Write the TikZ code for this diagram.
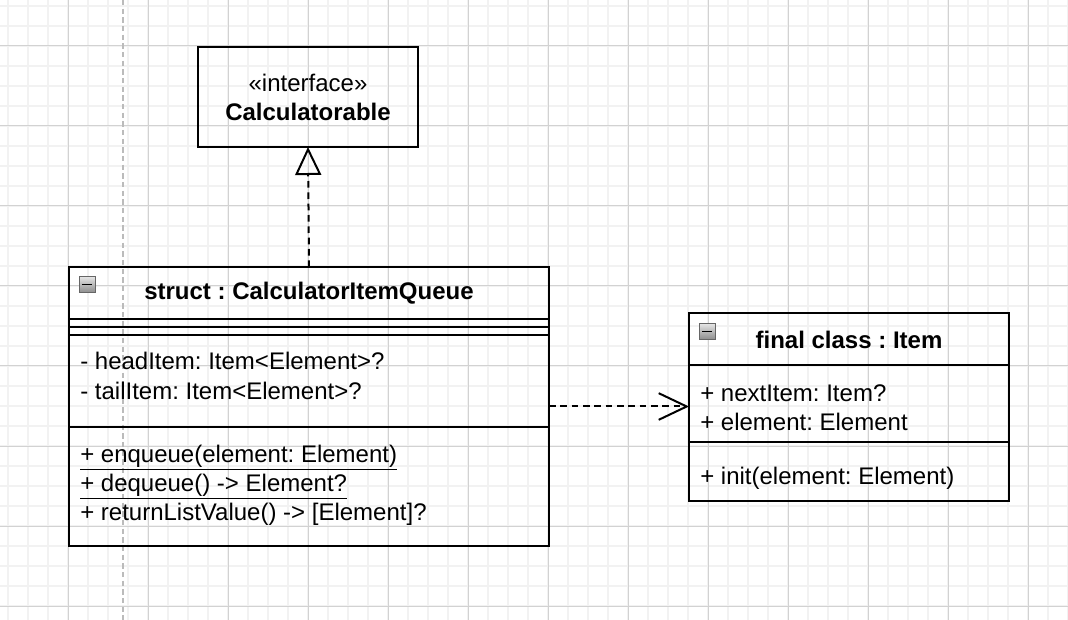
\documentclass[tikz,border=0pt]{standalone}
\usepackage{fontspec}
\setmainfont{Liberation Sans}
\usetikzlibrary{positioning, arrows.meta}
\definecolor{gridMinor}{HTML}{F2F2F2}
\definecolor{gridMajor}{HTML}{D2D2D2}
\definecolor{guideColor}{HTML}{BBBBBB}
\newcommand{\umlFont}{\fontsize{18}{21.75}\selectfont\frenchspacing}
\tikzset{
    class part/.style={
        rectangle,
        draw=black,
        line width=1.5pt,
        outer sep=0pt,
        minimum width=#1,
        inner sep=0pt,
        font=\umlFont,
    },
    class header/.style={
        class part=#1,
        minimum height=39pt,
        font=\umlFont\bfseries,
    },
    member/.style={
        inner sep=0pt,
        anchor=base west,
        font=\umlFont,
    },
    next member/.style={
        member,
        below=21.75pt of #1.base west,
        anchor=base west,
    },
    toggle/.style={
        rectangle,
        draw=black!60,
        line width=0.6pt,
        top color=black!10,
        bottom color=black!45,
        minimum size=12pt,
        inner sep=0pt,
    },
    realize/.style={
        -{Triangle[open, length=21pt, width=19.5pt, line width=1.5pt]},
        line width=1.5pt,
        dash pattern=on 5pt off 3.5pt,
    },
    depend/.style={
        -{Straight Barb[length=21pt, width=20pt, line width=1.5pt]},
        line width=1.5pt,
        dash pattern=on 5pt off 3.5pt,
    },
}

\begin{document}
\begin{tikzpicture}[x=0.75pt, y=-0.75pt]

\useasboundingbox (0,0) rectangle (1068,620);

% ── GRID ───────────────────────────────────────────────────────────

\foreach \x in {8,28,...,1068} \draw[gridMinor, line width=1.2pt] (\x,0) -- (\x,620);
\foreach \y in {6,26,...,620} \draw[gridMinor, line width=1.2pt] (0,\y) -- (1068,\y);
\foreach \x in {68,148,...,1068} \draw[gridMajor, line width=0.75pt] (\x,0) -- (\x,620);
\foreach \y in {46,126,...,620} \draw[gridMajor, line width=0.75pt] (0,\y) -- (1068,\y);
\draw[guideColor, line width=1.5pt, dash pattern=on 4pt off 2.5pt] (123,0) -- (123,620);

% ── INTERFACE ──────────────────────────────────────────────────────

\node[class part=165pt, minimum height=75pt, align=center] (calc) at (308,97)
    {«interface»\\\textbf{Calculatorable}};

% ── STRUCT: CalculatorItemQueue ────────────────────────────────────

\node[class header=360pt] (queue-header) at (309,293) {struct : CalculatorItemQueue};
\node[class part=360pt, minimum height=6pt, below=0pt of queue-header] (queue-gap1) {};
\node[class part=360pt, minimum height=6pt, below=0pt of queue-gap1] (queue-gap2) {};
\node[class part=360pt, minimum height=69pt, below=0pt of queue-gap2] (queue-attrs) {};
\node[class part=360pt, minimum height=89.25pt, below=0pt of queue-attrs] (queue-methods) {};

\node[member] (queue-head) at ([xshift=8.25pt, yshift=-26.25pt]queue-attrs.north west) {- headItem: Item<Element>?};
\node[next member=queue-head] (queue-tail) {- tailItem: Item<Element>?};

\node[member] (queue-enqueue) at ([xshift=8.25pt, yshift=-26.25pt]queue-methods.north west) {\underline{+ enqueue(element: Element)}};
\node[next member=queue-enqueue] (queue-dequeue) {\underline{+ dequeue() -> Element?}};
\node[next member=queue-dequeue] (queue-list) {+ returnListValue() -> [Element]?};

\node[toggle] (queue-toggle) at (87,284.5) {};
\draw[line width=1pt] ([xshift=2.5pt]queue-toggle.west) -- ([xshift=-2.5pt]queue-toggle.east);

% ── CLASS: Item ────────────────────────────────────────────────────

\node[class header=240pt] (item-header) at (849,339.5) {final class : Item};
\node[class part=240pt, minimum height=57pt, below=0pt of item-header] (item-attrs) {};
\node[class part=240pt, minimum height=44.25pt, below=0pt of item-attrs] (item-methods) {};

\node[member] (item-next) at ([xshift=8.25pt, yshift=-27pt]item-attrs.north west) {+ nextItem: Item?};
\node[next member=item-next] (item-element) {+ element: Element};
\node[member] (item-init) at ([xshift=8.25pt, yshift=-32.25pt]item-methods.north west) {+ init(element: Element)};

\node[toggle] (item-toggle) at (707,331.5) {};
\draw[line width=1pt] ([xshift=2.5pt]item-toggle.west) -- ([xshift=-2.5pt]item-toggle.east);

% ── RELATIONSHIPS ──────────────────────────────────────────────────

\draw[realize] (queue-header.north) -- (calc.south);
\draw[depend] ([yshift=-2.25pt]queue-attrs.east |- item-attrs.west) -- ([yshift=-2.25pt]item-attrs.west);

\end{tikzpicture}
\end{document}
